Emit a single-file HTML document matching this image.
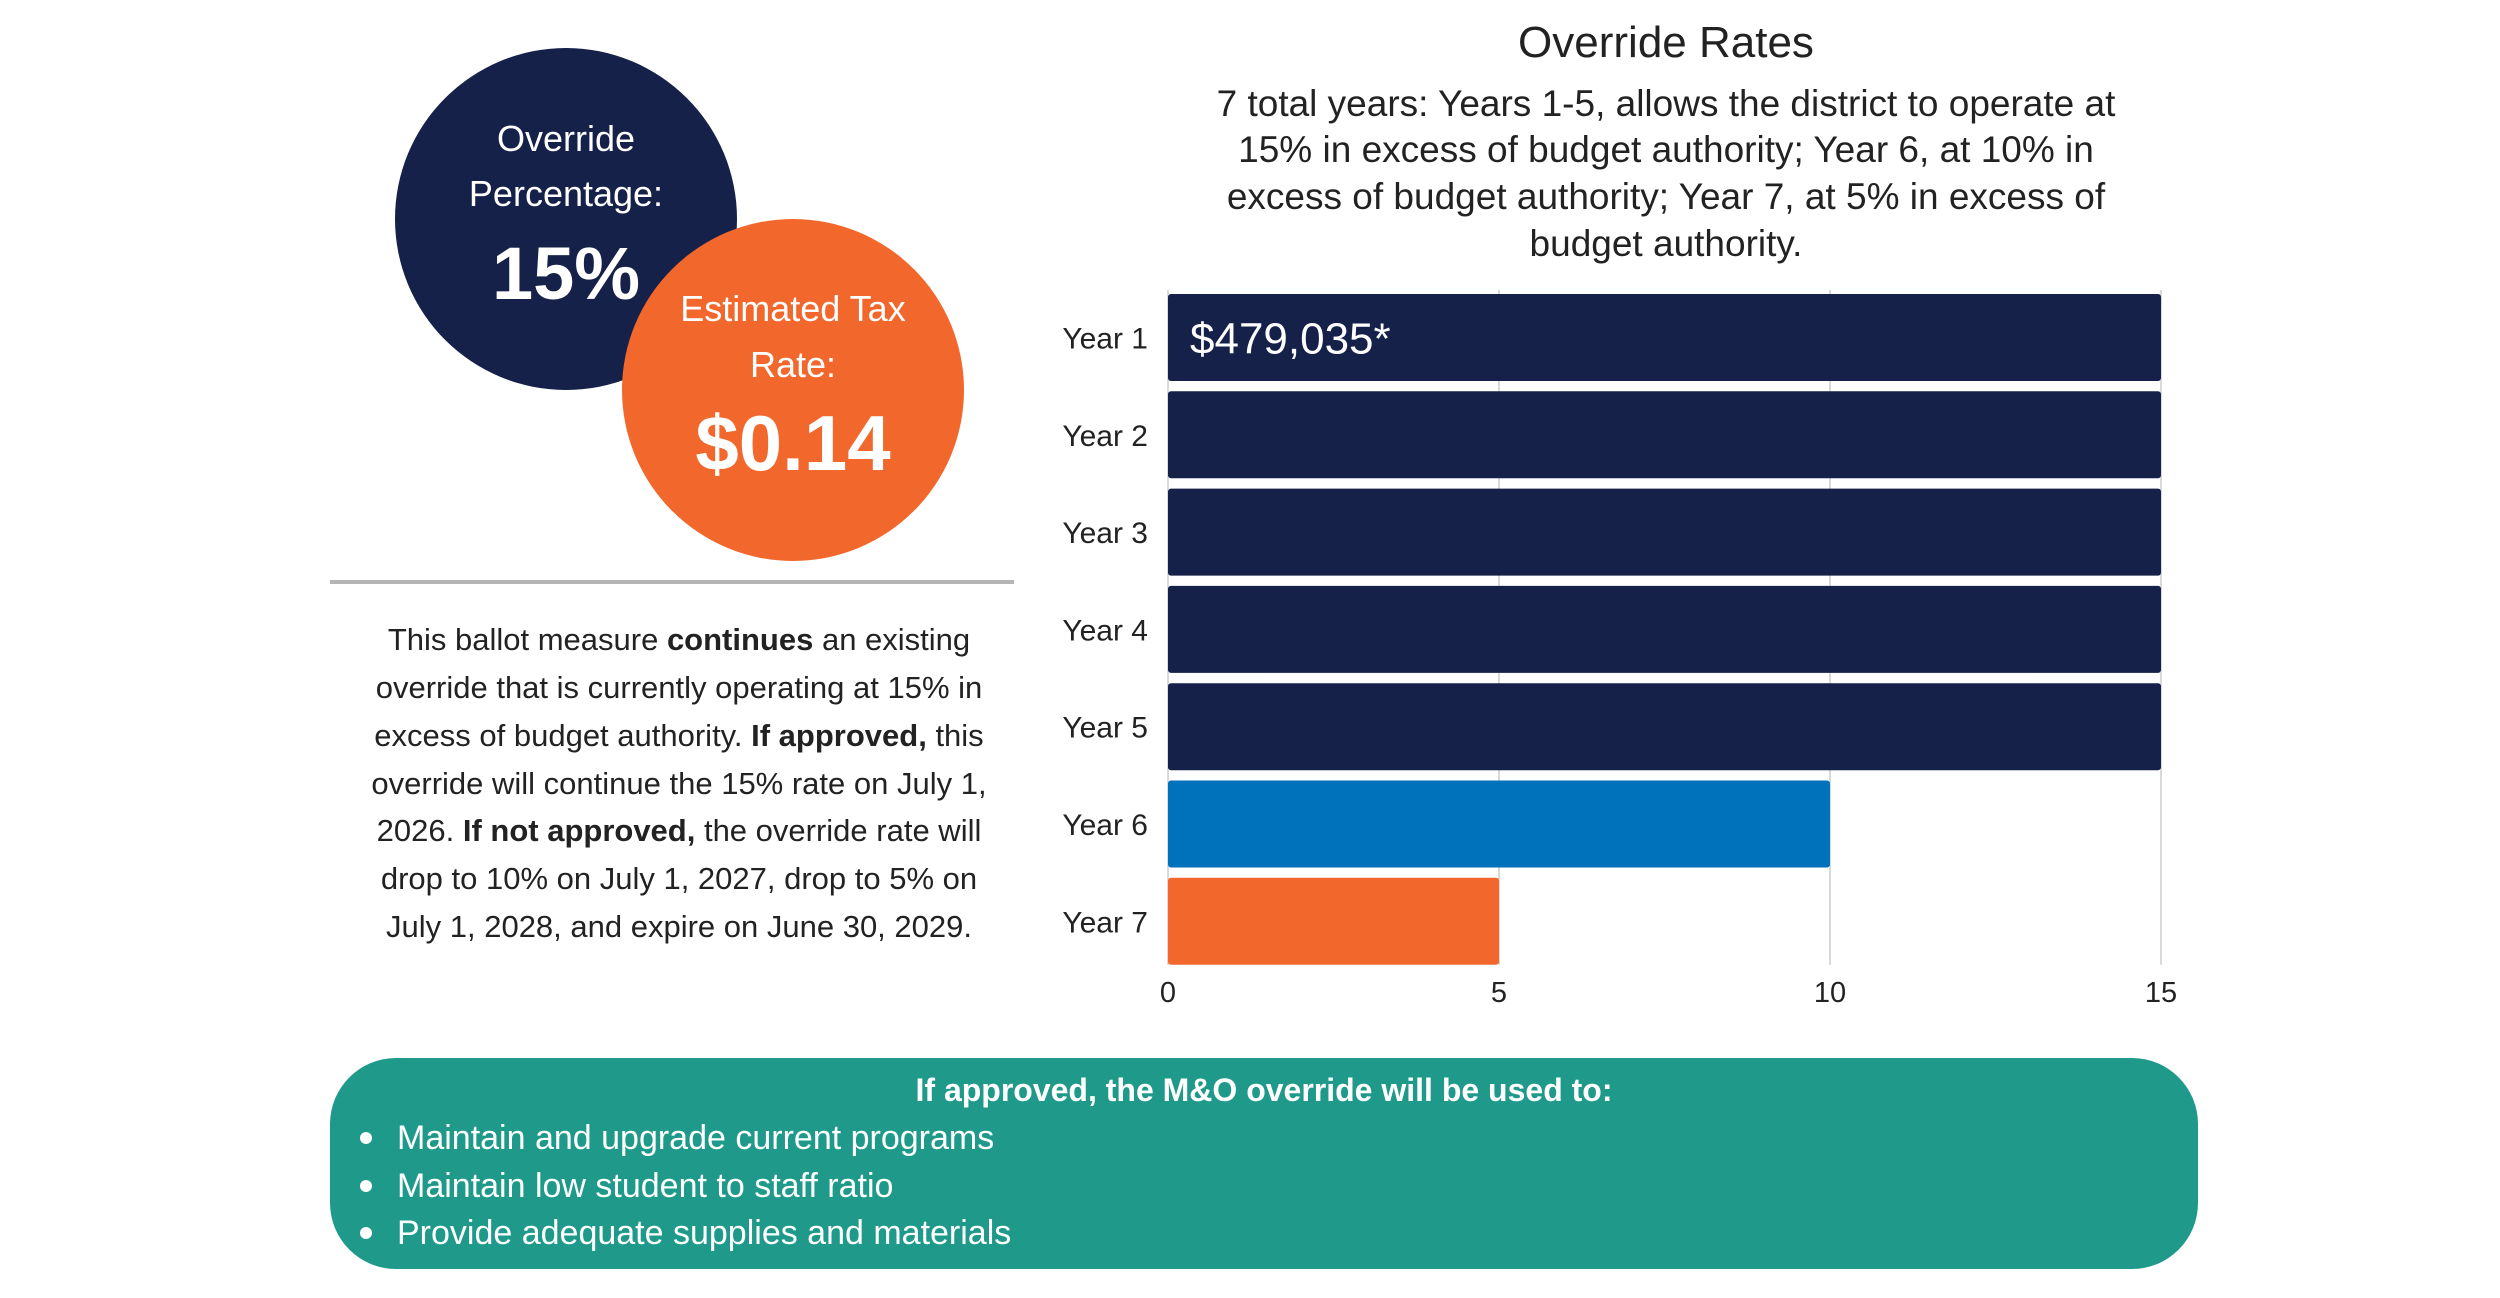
<!DOCTYPE html>
<html><head><meta charset="utf-8"><style>
html,body{margin:0;padding:0;background:#fff;}
svg{display:block;font-family:"Liberation Sans",sans-serif;}
</style></head><body>
<svg id="root" width="2500" height="1298" viewBox="0 0 2500 1298">
  <circle cx="566" cy="219" r="171" fill="#16214a"/>
  <text x="566" y="151" font-size="36" fill="#fff" text-anchor="middle">Override</text>
  <text x="566" y="206" font-size="36" fill="#fff" text-anchor="middle">Percentage:</text>
  <text x="566" y="299" font-size="74" font-weight="bold" fill="#fff" text-anchor="middle">15%</text>
  <circle cx="793" cy="390" r="171" fill="#f2672c"/>
  <text x="793" y="321" font-size="36" fill="#fff" text-anchor="middle">Estimated Tax</text>
  <text x="793" y="377" font-size="36" fill="#fff" text-anchor="middle">Rate:</text>
  <text x="793" y="470" font-size="78" font-weight="bold" fill="#fff" text-anchor="middle">$0.14</text>
  <rect x="330" y="580" width="684" height="4" fill="#b5b5b5"/>
  <g font-size="31" fill="#222" text-anchor="middle">
    <text x="679" y="650">This ballot measure <tspan font-weight="bold">continues</tspan> an existing</text>
    <text x="679" y="698">override that is currently operating at 15% in</text>
    <text x="679" y="746">excess of budget authority. <tspan font-weight="bold">If approved,</tspan> this</text>
    <text x="679" y="794">override will continue the 15% rate on July 1,</text>
    <text x="679" y="841">2026. <tspan font-weight="bold">If not approved,</tspan> the override rate will</text>
    <text x="679" y="889">drop to 10% on July 1, 2027, drop to 5% on</text>
    <text x="679" y="937">July 1, 2028, and expire on June 30, 2029.</text>
  </g>
  <text x="1666" y="57" font-size="44" fill="#222" text-anchor="middle">Override Rates</text>
  <g font-size="37" fill="#222" text-anchor="middle">
    <text x="1666" y="116">7 total years: Years 1-5, allows the district to operate at</text>
    <text x="1666" y="162">15% in excess of budget authority; Year 6, at 10% in</text>
    <text x="1666" y="209">excess of budget authority; Year 7, at 5% in excess of</text>
    <text x="1666" y="256">budget authority.</text>
  </g>
  <g id="chart"></g>
  <rect x="330" y="1058" width="1868" height="211" rx="66" fill="#1f9a8a"/>
  <text x="1264" y="1101" font-size="32" font-weight="bold" fill="#fff" text-anchor="middle">If approved, the M&amp;O override will be used to:</text>
  <g font-size="34" fill="#fff">
    <circle cx="366" cy="1138" r="6" fill="#fff"/><text x="397" y="1149">Maintain and upgrade current programs</text>
    <circle cx="366" cy="1186" r="6" fill="#fff"/><text x="397" y="1197">Maintain low student to staff ratio</text>
    <circle cx="366" cy="1233" r="6" fill="#fff"/><text x="397" y="1244">Provide adequate supplies and materials</text>
  </g>
</svg>
<script>
const categories = ["Year 1","Year 2","Year 3","Year 4","Year 5","Year 6","Year 7"];
const values = [15,15,15,15,15,10,5];
const barColors = ["#16214a","#16214a","#16214a","#16214a","#16214a","#0072bb","#f2672c"];
const tickValues = [0,5,10,15];
const barLabels = ["$479,035*","","","","","",""];
const NS = "http://www.w3.org/2000/svg";
const g = document.getElementById('chart');
const x0 = 1168, x1 = 2161, yTop = 294, step = 97.3, barH = 87;
const xScale = v => x0 + (v / 15) * (x1 - x0);
const yScale = i => yTop + i * step;
function mk(tag, attrs){ const e = document.createElementNS(NS, tag); for (const k in attrs) e.setAttribute(k, attrs[k]); g.appendChild(e); return e; }
tickValues.forEach(t => {
  const l = mk('line', {x1: xScale(t), x2: xScale(t), y1: yTop - 4, y2: yScale(6) + barH, stroke: '#d9d9d9', 'stroke-width': 2});
  
  
  const tx = mk('text', {x: xScale(t), y: 1002, 'font-size': 29, fill: '#222', 'text-anchor': 'middle'});
  tx.textContent = t;
  
  
});
categories.forEach((c, i) => {
  const r = mk('rect', {x: x0, y: yScale(i), width: xScale(values[i]) - x0, height: barH, rx: 3, fill: barColors[i]});
  
  
  const lab = mk('text', {x: 1148, y: yScale(i) + barH / 2 + 11, 'font-size': 30, fill: '#222', 'text-anchor': 'end'});
  lab.textContent = c;
  
  
  if (barLabels[i]) {
    const v = mk('text', {x: x0 + 22, y: yScale(i) + barH / 2 + 16, 'font-size': 44, fill: '#fff'});
    v.textContent = barLabels[i];
    
    
  }
});
</script>
</body></html>
